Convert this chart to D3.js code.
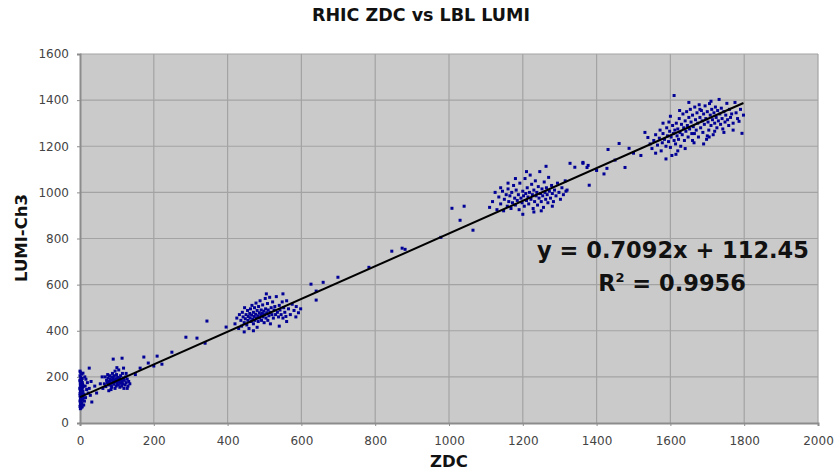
<!DOCTYPE html>
<html>
<head>
<meta charset="utf-8">
<script src="https://cdn.jsdelivr.net/npm/d3@7"></script>
<style>
  body { margin: 0; background: #fff; }
  text { font-family: "DejaVu Sans", Verdana, sans-serif; }
</style>
</head>
<body>
<div class="app"></div>
<script>
// chart values (ZDC, LUMI-Ch3)
var clusterZero = [[0,72],[1,80],[2,88],[0,95],[3,101],[1,108],[4,115],[2,122],[0,128],[5,134],[1,140],[3,146],[0,152],[2,158],[4,164],[1,170],[6,176],[0,182],[3,190],[2,198],[0,205],[4,212],[1,220],[2,75],[5,84],[3,92],[6,99],[2,105],[7,112],[0,118],[4,125],[6,131],[2,137],[5,143],[0,149],[7,155],[3,161],[1,167],[5,173],[2,179],[0,186],[6,193],[3,86],[1,96],[8,104],[4,110],[6,120],[3,130],[8,138],[1,145],[5,150],[9,160],[2,165],[7,168],[4,185],[1,62],[3,66],[6,70],[10,78],[12,95],[15,110],[11,125],[18,145],[14,160],[20,175],[16,190],[13,200],[22,130],[25,150],[0,225],[30,180],[28,120],[32,91],[8,216],[25,238]];
var clusterHundred = [[62,150],[66,170],[70,158],[72,185],[74,175],[76,195],[78,165],[80,205],[80,180],[82,190],[84,172],[85,160],[86,200],[88,185],[88,215],[90,175],[90,195],[92,168],[93,205],[94,185],[95,225],[96,178],[97,192],[98,160],[99,210],[100,180],[101,170],[102,198],[103,188],[104,165],[105,230],[106,178],[107,195],[108,155],[108,185],[110,172],[110,205],[112,190],[113,160],[114,180],[115,215],[116,170],[118,195],[119,150],[120,185],[122,165],[124,200],[125,175],[128,190],[130,160],[132,180],[135,170],[78,140],[84,145],[118,238],[90,277],[114,281],[45,130],[55,170],[40,160],[60,200],[100,240],[95,150],[86,155],[75,210],[68,200],[125,215],[128,150]];
var clusterFiveHundred = [[420,430],[425,455],[430,410],[432,470],[436,445],[438,420],[440,480],[442,460],[445,435],[446,500],[448,452],[450,470],[452,425],[454,488],[455,445],[456,462],[458,410],[460,475],[461,455],[462,495],[464,440],[465,468],[466,510],[468,450],[470,480],[470,430],[472,462],[473,500],[474,445],[476,472],[477,520],[478,455],[480,488],[480,415],[482,465],[483,440],[484,505],[486,478],[487,455],[488,530],[490,468],[491,490],[492,445],[494,475],[495,512],[496,460],[498,485],[499,435],[500,470],[502,540],[503,495],[504,455],[506,478],[508,518],[509,445],[510,490],[512,465],[514,545],[515,480],[516,430],[518,500],[520,470],[522,525],[524,455],[526,490],[528,505],[530,470],[532,548],[535,480],[538,460],[540,510],[542,490],[545,470],[548,525],[550,455],[552,500],[555,480],[558,462],[560,530],[565,495],[570,470],[575,515],[580,488],[586,505],[592,478],[598,495],[445,395],[470,400],[540,420],[560,440],[585,460],[505,560],[550,560]];
var clusterTwelveHundred = [[1110,935],[1118,960],[1125,1000],[1130,925],[1135,980],[1140,950],[1145,1005],[1148,920],[1150,970],[1155,990],[1158,940],[1160,1015],[1162,960],[1165,985],[1168,930],[1170,1000],[1172,955],[1175,1030],[1178,975],[1180,945],[1182,1010],[1185,965],[1188,990],[1190,925],[1192,1040],[1195,975],[1198,955],[1200,1005],[1202,985],[1204,940],[1206,1060],[1208,995],[1210,965],[1212,1020],[1214,980],[1216,950],[1218,1000],[1220,1075],[1222,970],[1224,1035],[1226,990],[1228,930],[1230,1010],[1232,960],[1234,1050],[1236,985],[1238,1000],[1240,945],[1242,1025],[1244,975],[1246,1090],[1248,995],[1250,960],[1252,1015],[1254,985],[1256,935],[1258,1045],[1260,1000],[1262,970],[1264,1020],[1266,990],[1268,955],[1270,1065],[1272,1005],[1275,975],[1278,1030],[1280,995],[1283,960],[1286,1010],[1290,985],[1294,1040],[1298,1000],[1302,970],[1306,1020],[1310,990],[1315,1050],[1320,1010],[1263,1113],[1230,915],[1200,905],[1250,920],[1280,940],[1180,1060],[1160,1040],[1210,1090],[1140,1020]];
var clusterSeventeenHundred = [[1531,1260],[1539,1238],[1545,1210],[1550,1190],[1555,1225],[1560,1250],[1565,1205],[1570,1235],[1572,1270],[1575,1180],[1578,1215],[1580,1255],[1584,1230],[1588,1200],[1590,1280],[1592,1245],[1595,1220],[1598,1265],[1600,1195],[1602,1240],[1604,1160],[1606,1290],[1608,1255],[1610,1420],[1610,1225],[1612,1270],[1614,1210],[1616,1300],[1618,1245],[1620,1275],[1622,1230],[1624,1320],[1626,1260],[1628,1200],[1630,1295],[1632,1250],[1634,1340],[1636,1280],[1638,1225],[1640,1310],[1642,1265],[1644,1350],[1646,1290],[1648,1240],[1650,1325],[1652,1275],[1654,1360],[1656,1305],[1658,1255],[1660,1335],[1662,1285],[1664,1215],[1666,1370],[1668,1315],[1670,1270],[1672,1345],[1674,1300],[1676,1240],[1678,1380],[1680,1325],[1682,1280],[1684,1355],[1686,1310],[1688,1260],[1690,1340],[1692,1295],[1694,1375],[1696,1320],[1698,1230],[1700,1350],[1702,1305],[1704,1270],[1706,1385],[1708,1335],[1710,1290],[1712,1360],[1714,1315],[1716,1250],[1718,1345],[1720,1300],[1722,1370],[1724,1325],[1726,1280],[1728,1355],[1730,1310],[1732,1403],[1734,1340],[1736,1295],[1738,1365],[1740,1320],[1742,1275],[1745,1350],[1748,1305],[1750,1335],[1753,1386],[1755,1315],[1758,1290],[1760,1360],[1763,1325],[1766,1340],[1770,1300],[1775,1390],[1778,1345],[1782,1320],[1786,1308],[1790,1360],[1794,1256],[1798,1335],[1660,1225],[1690,1210],[1640,1190],[1620,1180],[1700,1245],[1720,1265],[1680,1360],[1650,1390],[1710,1395],[1600,1330],[1580,1300],[1560,1170],[1596,1305],[1625,1355],[1665,1255],[1705,1240],[1745,1260],[1770,1270],[1615,1165],[1588,1145]];
var stragglers = [[163,238],[173,286],[209,290],[200,247],[222,255],[249,307],[287,372],[317,368],[344,442],[339,346],[396,416],[150,210],[185,260],[626,602],[659,610],[699,632],[640,572],[640,533],[783,675],[845,745],[873,758],[881,753],[978,805],[1008,931],[1041,940],[1030,879],[1065,836],[1317,1005],[1328,1126],[1363,1126],[1341,1109],[1380,1031],[1377,1117],[1363,1130],[1374,1108],[1428,1104],[1477,1108],[1431,1186],[1461,1212],[1488,1191],[1520,1160],[1400,1095],[1420,1080],[1450,1140],[1500,1170]];

var xTicks = [0, 200, 400, 600, 800, 1000, 1200, 1400, 1600, 1800, 2000];
var yTicks = [0, 200, 400, 600, 800, 1000, 1200, 1400, 1600];
var fitSlope = 0.7092;
var fitIntercept = 112.45;
var fitR2 = "0.9956";

var width = 835, height = 471;
var margin = {left: 80, right: 17, top: 54, bottom: 48};

var svg = d3.select(".app").append("svg").attr("width", width).attr("height", height);

var x = d3.scaleLinear().domain([0, 2000]).range([margin.left, width - margin.right]);
var y = d3.scaleLinear().domain([0, 1600]).range([height - margin.bottom, margin.top]);

// plot area
svg.append("rect")
    .attr("x", x(0)).attr("y", y(1600))
    .attr("width", x(2000) - x(0)).attr("height", y(0) - y(1600))
    .attr("fill", "#cacaca");

// grid
svg.append("g").selectAll("line").data(xTicks.slice(1)).enter().append("line")
    .attr("x1", function(d){ return x(d); }).attr("x2", function(d){ return x(d); })
    .attr("y1", y(1600)).attr("y2", y(0))
    .attr("stroke", "#a3a3a3").attr("stroke-width", 1.2);
svg.append("g").selectAll("line").data(yTicks.slice(1)).enter().append("line")
    .attr("x1", x(0)).attr("x2", x(2000))
    .attr("y1", function(d){ return y(d); }).attr("y2", function(d){ return y(d); })
    .attr("stroke", "#a3a3a3").attr("stroke-width", 1.2);

// axes
var xAxis = d3.axisBottom(x).tickValues(xTicks).tickFormat(d3.format("d")).tickSize(3).tickPadding(10);
var yAxis = d3.axisLeft(y).tickValues(yTicks).tickFormat(d3.format("d")).tickSize(3).tickPadding(8);
var gx = svg.append("g").attr("transform", "translate(0," + y(0) + ")").call(xAxis);
var gy = svg.append("g").attr("transform", "translate(" + x(0) + ",0)").call(yAxis);
[gx, gy].forEach(function(g){
    g.select(".domain").attr("stroke", "#8c8c8c").attr("stroke-width", 2);
    g.selectAll(".tick line").attr("stroke", "#8c8c8c");
    g.selectAll("text").attr("fill", "#444").style("font-size", "12px")
        .style("font-family", "'DejaVu Sans', Verdana, sans-serif");
});

// points
var allPoints = [].concat(clusterZero, clusterHundred, stragglers, clusterFiveHundred,
    clusterTwelveHundred, clusterSeventeenHundred);
svg.append("g").selectAll("rect").data(allPoints).enter().append("rect")
    .attr("x", function(d){ return x(d[0]) - 1.5; })
    .attr("y", function(d){ return y(d[1]) - 1.5; })
    .attr("width", 3).attr("height", 3)
    .attr("fill", "#000096");

// linear trendline over the data range
var xExtent = d3.extent(allPoints, function(d){ return d[0]; });
svg.append("line")
    .attr("x1", x(xExtent[0])).attr("y1", y(fitSlope * xExtent[0] + fitIntercept))
    .attr("x2", x(xExtent[1])).attr("y2", y(fitSlope * xExtent[1] + fitIntercept))
    .attr("stroke", "#000").attr("stroke-width", 2);

// texts
svg.append("text").attr("x", 421).attr("y", 21).attr("text-anchor", "middle")
    .style("font-size", "17.5px").style("font-weight", "bold").attr("fill", "#111")
    .text("RHIC ZDC vs LBL LUMI");
svg.append("text").attr("x", 449).attr("y", 467).attr("text-anchor", "middle")
    .style("font-size", "16.5px").style("font-weight", "bold").attr("fill", "#111")
    .text("ZDC");
svg.append("text").attr("transform", "translate(27,238) rotate(-90)").attr("text-anchor", "middle")
    .style("font-size", "16.5px").style("font-weight", "bold").attr("fill", "#111")
    .text("LUMI-Ch3");

svg.append("text").attr("x", 673).attr("y", 258).attr("text-anchor", "middle")
    .style("font-size", "22.5px").style("font-weight", "bold").attr("fill", "#111")
    .text("y = " + fitSlope + "x + " + fitIntercept);
var r2 = svg.append("text").attr("x", 672).attr("y", 291).attr("text-anchor", "middle")
    .style("font-size", "22.5px").style("font-weight", "bold").attr("fill", "#111");
r2.append("tspan").text("R");
r2.append("tspan").attr("dy", -9).style("font-size", "13px").text("2");
r2.append("tspan").attr("dy", 9).text(" = " + fitR2);
</script>
</body>
</html>
